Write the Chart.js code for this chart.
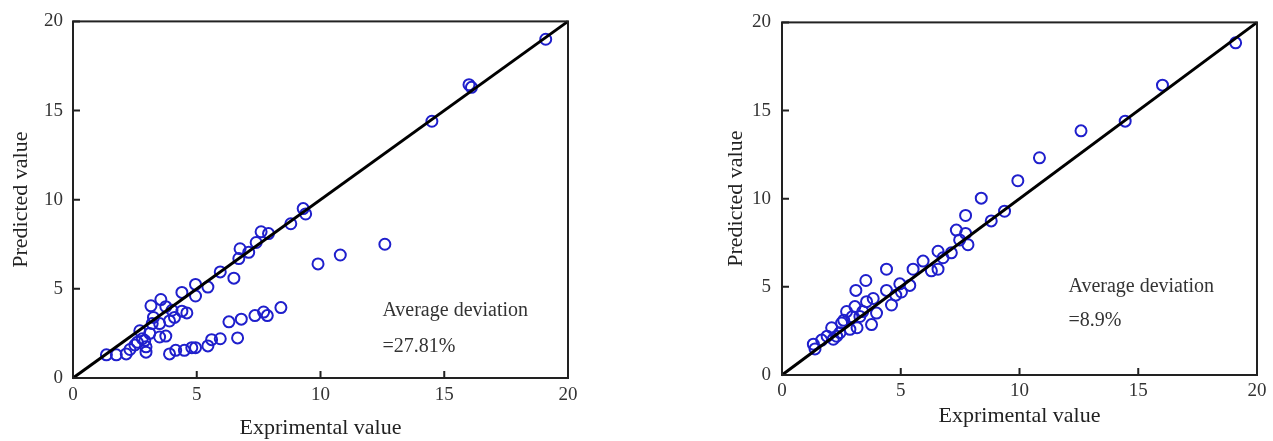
<!DOCTYPE html>
<html>
<head>
<meta charset="utf-8">
<script src="https://cdn.jsdelivr.net/npm/chart.js@4.4.0/dist/chart.umd.min.js"></script>
<style>
html, body { margin: 0; padding: 0; background: #fff; width: 1273px; height: 441px; overflow: hidden; }
.box { position: absolute; top: 0; height: 441px; }
#boxL { left: 0; width: 620px; }
#boxR { left: 700px; width: 573px; }
</style>
</head>
<body>
<div class="box" id="boxL"><canvas id="chartL"></canvas></div>
<div class="box" id="boxR"><canvas id="chartR"></canvas></div>
<script>
// valores
const leftExp = [1.35, 1.75, 2.15, 2.3, 2.5, 2.6, 2.7, 2.8, 2.95, 2.95, 2.9, 3.1, 3.2, 3.15, 3.55, 3.25, 3.5, 3.5, 3.75, 3.75,
    3.9, 4.1, 4.0, 4.4, 4.4, 4.6, 4.95, 4.95, 5.45, 5.95, 6.5, 6.7, 6.75, 7.1, 7.4, 7.6, 7.9, 8.8, 9.3, 9.4,
    9.9, 10.8, 12.6, 14.5, 16.0, 16.1, 19.1,
    3.9, 4.15, 4.5, 4.8, 4.95, 5.45, 5.6, 5.95, 6.65, 6.3, 6.8, 7.35, 7.7, 7.85, 8.4];
const leftPred = [1.3, 1.3, 1.35, 1.6, 1.85, 2.0, 2.65, 2.2, 1.75, 1.45, 2.1, 2.5, 3.05, 4.05, 4.4, 3.4, 3.05, 2.3, 2.35, 4.0,
    3.2, 3.4, 3.8, 4.8, 3.75, 3.65, 5.25, 4.6, 5.1, 5.95, 5.6, 6.7, 7.25, 7.05, 7.6, 8.2, 8.1, 8.65, 9.5, 9.2,
    6.4, 6.9, 7.5, 14.4, 16.45, 16.3, 19.0,
    1.35, 1.55, 1.55, 1.7, 1.7, 1.8, 2.15, 2.2, 2.25, 3.15, 3.3, 3.5, 3.7, 3.5, 3.95];

const rightExp = [1.39, 1.67, 2.09, 2.16, 2.44, 2.51, 2.72, 2.86, 3.07, 3.11, 3.16, 3.28, 3.53, 3.56, 3.77, 3.84, 3.98, 4.4, 4.4, 4.61,
    4.79, 4.96, 5.03, 5.38, 5.52, 5.94, 6.29, 6.57, 6.78, 7.13, 6.57, 7.34, 7.48, 7.73, 7.83, 7.73, 8.39, 8.81, 9.37, 9.93,
    10.84, 12.59, 14.45, 16.02, 19.1,
    1.32, 1.9, 2.3, 2.6, 2.95, 3.4];
const rightPred = [1.48, 1.98, 2.68, 2.03, 2.4, 2.95, 3.6, 2.59, 3.88, 4.8, 2.68, 3.32, 5.36, 4.16, 2.86, 4.34, 3.51, 6.0, 4.8, 3.97,
    4.53, 5.17, 4.71, 5.08, 6.0, 6.46, 5.91, 6.0, 6.65, 6.93, 7.02, 8.22, 7.66, 8.03, 7.39, 9.05, 10.03, 8.74, 9.29, 11.02,
    12.32, 13.85, 14.4, 16.44, 18.84,
    1.75, 2.2, 2.2, 3.1, 3.3, 3.6];

// recta y = x
const lineX = [0, 20];
const lineY = [0, 20];

const axisMin = 0;
const axisMax = 20;
const axisStep = 5;

const leftNote = ['Average deviation', '=27.81%'];
const rightNote = ['Average deviation', '=8.9%'];

const serif = "'Liberation Serif', 'DejaVu Serif', serif";

// marco completo + marcas hacia dentro + texto de desviación
const framePlugin = {
    id: 'frame',
    afterDatasetsDraw(chart, args, opts) {
        const { ctx, chartArea: a, scales: { x, y } } = chart;
        ctx.save();
        ctx.strokeStyle = '#222';
        ctx.lineWidth = 2;
        ctx.strokeRect(a.left, a.top, a.right - a.left, a.bottom - a.top);
        ctx.beginPath();
        x.ticks.forEach(t => {
            const px = x.getPixelForValue(t.value);
            ctx.moveTo(px, a.bottom);
            ctx.lineTo(px, a.bottom - 7);
        });
        y.ticks.forEach(t => {
            const py = y.getPixelForValue(t.value);
            ctx.moveTo(a.left, py);
            ctx.lineTo(a.left + 7, py);
        });
        ctx.stroke();

        ctx.fillStyle = '#333';
        ctx.font = '20px ' + serif;
        ctx.textAlign = 'left';
        ctx.textBaseline = 'middle';
        opts.lines.forEach((txt, i) => {
            ctx.fillText(txt, x.getPixelForValue(opts.at[0]), y.getPixelForValue(opts.at[i + 1]));
        });
        ctx.restore();
    }
};

function crearGrafico(id, xs, ys, geo, note) {
    const puntos = xs.map((v, i) => ({ x: v, y: ys[i] }));
    const recta = lineX.map((v, i) => ({ x: v, y: lineY[i] }));

    return new Chart(document.getElementById(id), {
        type: 'scatter',
        data: {
            datasets: [
                {
                    type: 'line',
                    data: recta,
                    borderColor: '#000',
                    borderWidth: 3,
                    pointRadius: 0,
                    clip: false,
                    order: 0
                },
                {
                    data: puntos,
                    pointStyle: 'circle',
                    pointRadius: 5.5,
                    borderWidth: 2,
                    borderColor: '#1f1fcc',
                    backgroundColor: 'rgba(0,0,0,0)',
                    order: 1
                }
            ]
        },
        options: {
            responsive: true,
            maintainAspectRatio: false,
            animation: false,
            layout: { padding: geo.pad },
            plugins: {
                legend: { display: false },
                tooltip: { enabled: false },
                frame: note
            },
            scales: {
                x: {
                    type: 'linear',
                    min: axisMin, max: axisMax,
                    ticks: { stepSize: axisStep, color: '#333', padding: geo.xTickPad, maxRotation: 0,
                        font: { family: serif, size: 19 } },
                    grid: { display: false, drawTicks: false },
                    border: { display: false },
                    title: { display: true, text: 'Exprimental value', color: '#222',
                        font: { family: serif, size: 22 }, padding: { top: 0, bottom: geo.xTitlePad } },
                    afterFit: s => { s.height = geo.xH; }
                },
                y: {
                    type: 'linear',
                    min: axisMin, max: axisMax,
                    ticks: { stepSize: axisStep, color: '#333', padding: geo.yTickPad,
                        font: { family: serif, size: 19 } },
                    grid: { display: false, drawTicks: false },
                    border: { display: false },
                    title: { display: true, text: 'Predicted value', color: '#222',
                        font: { family: serif, size: 22 }, padding: { top: geo.yTitlePad, bottom: 0 } },
                    afterFit: s => { s.width = geo.yW; }
                }
            }
        },
        plugins: [framePlugin]
    });
}

crearGrafico('chartL', leftExp, leftPred,
    { pad: { left: 0, top: 18, right: 52, bottom: 0 }, xH: 63, yW: 73, xTickPad: 6, yTickPad: 10, xTitlePad: 0, yTitlePad: 8 },
    { lines: leftNote, at: [12.5, 3.78, 1.78] });

crearGrafico('chartR', rightExp, rightPred,
    { pad: { left: 0, top: 14, right: 16, bottom: 0 }, xH: 66, yW: 82, xTickPad: 5, yTickPad: 11, xTitlePad: 12, yTitlePad: 23 },
    { lines: rightNote, at: [12.06, 4.99, 3.1] });
</script>
</body>
</html>
